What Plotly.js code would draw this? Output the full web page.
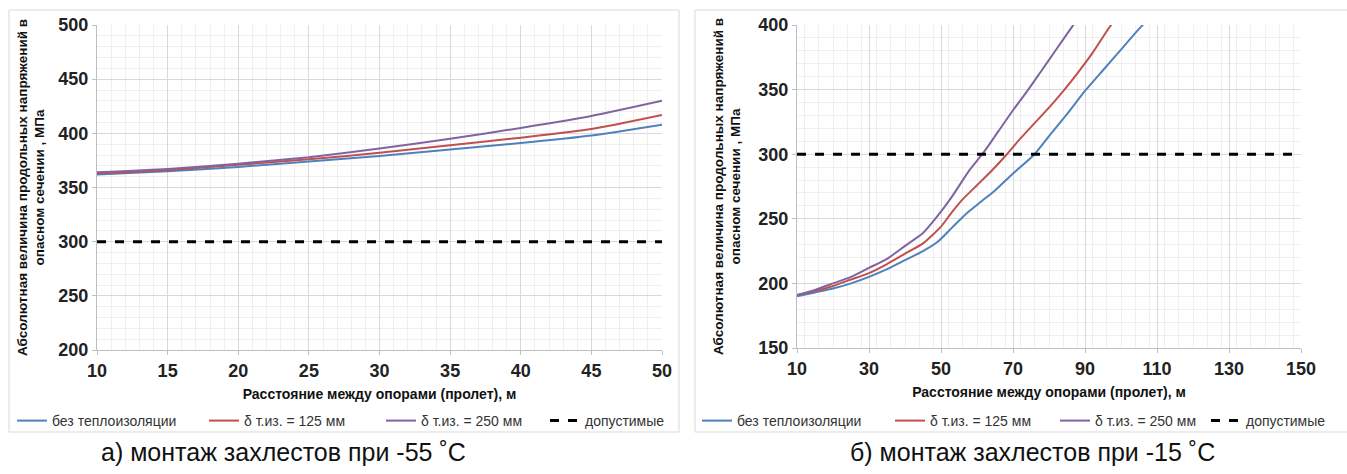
<!DOCTYPE html>
<html><head><meta charset="utf-8">
<script src="https://cdn.plot.ly/plotly-3.0.1.min.js"></script>
<style>html,body{margin:0;padding:0;background:#fff;overflow:hidden}</style>
</head><body><div id="chart" style="width:1347px;height:474px"></div>
<script>
// ---- data: panel a) -55 C ----
const spanA = [10, 15, 20, 25, 30, 35, 40, 45, 50];
const noInsA = [362, 365, 369, 374, 379, 385, 391, 398, 408];
const ins125A = [363, 366, 371, 376, 382, 389, 396, 404, 417];
const ins250A = [364, 367, 372, 378, 386, 395, 405, 416, 430];
const limitSpanA = [10, 50];
const limitA = [300, 300];

// ---- data: panel б) -15 C ----
const spanNoInsB = [10, 15, 20, 25, 30, 35, 40, 45, 49, 53, 57, 61, 65, 70, 76, 80, 85, 90, 95, 100, 105, 107];
const noInsB = [190, 193, 196, 200, 205, 211, 218, 225, 232, 243, 254, 263, 272, 285, 300, 314, 331, 349, 365, 381, 397, 403];
const span125B = [10, 15, 20, 25, 30, 35, 40, 45, 50, 53, 56, 60, 64, 68, 72, 76, 80, 84, 88, 92, 96, 98];
const ins125B = [191, 194, 198, 203, 208, 215, 223, 231, 244, 255, 265, 276, 287, 299, 312, 324, 336, 349, 363, 378, 395, 403];
const span250B = [10, 15, 20, 25, 30, 35, 40, 45, 49, 53, 58, 62, 66, 70, 74, 78, 82, 86, 88];
const ins250B = [191, 195, 200, 205, 212, 219, 229, 239, 252, 267, 288, 302, 318, 334, 349, 365, 381, 397, 405];
const limitSpanB = [10, 150];
const limitB = [300, 300];

const seriesNames = ["без теплоизоляции", "δ т.из. = 125 мм", "δ т.из. = 250 мм", "допустимые"];
const panelTitles = ["а) монтаж захлестов при -55 ˚С", "б) монтаж захлестов при -15 ˚С"];
const xTitle = "Расстояние между опорами (пролет), м";
const yTitle = "Абсолютная величина продольных напряжений в<br>опасном сечении , МПа";

const colors = ["#4f81bd", "#c0504d", "#8064a2", "#000000"];

function mk(x, y, i, xa, ya, lg) {
  const t = {x: x, y: y, type: "scatter", mode: "lines", name: seriesNames[i],
    xaxis: xa, yaxis: ya, legend: lg,
    line: {color: colors[i], width: 2, shape: "spline", smoothing: 0.6}};
  if (i === 3) { t.line = {color: "#000", width: 3, dash: "dash"}; }
  return t;
}

const data = [
  mk(spanA, noInsA, 0, "x", "y", "legend"),
  mk(spanA, ins125A, 1, "x", "y", "legend2"),
  mk(spanA, ins250A, 2, "x", "y", "legend3"),
  mk(limitSpanA, limitA, 3, "x", "y", "legend4"),
  mk(spanNoInsB, noInsB, 0, "x2", "y2", "legend5"),
  mk(span125B, ins125B, 1, "x2", "y2", "legend6"),
  mk(span250B, ins250B, 2, "x2", "y2", "legend7"),
  mk(limitSpanB, limitB, 3, "x2", "y2", "legend8")
];

const W = 1347, H = 474;
function px(v) { return v / W; }
function py(v) { return 1 - v / H; }

const tickFont = {family: "Liberation Sans, Arial, sans-serif", size: 18, color: "#222", weight: "bold"};
const gridMajor = "#d9d9d9";
const gridMinor = "#efefef";

const axisX = (dom, rng, dt, minorDt, anchor) => ({
  domain: dom, range: rng, dtick: dt, tick0: rng[0], anchor: anchor,
  showgrid: true, gridcolor: gridMajor, gridwidth: 1,
  minor: {dtick: minorDt, showgrid: true, gridcolor: gridMinor, gridwidth: 1},
  showline: true, linecolor: "#bfbfbf", linewidth: 1,
  ticks: "outside", ticklen: 4, tickcolor: "#bfbfbf",
  zeroline: false, tickfont: tickFont,
  title: {text: xTitle, font: {family: "Liberation Sans, Arial", size: 14, color: "#111", weight: "bold"}, standoff: 9}
});
const axisY = (dom, rng, anchor, standoff) => ({
  domain: dom, range: rng, dtick: 50, anchor: anchor,
  showgrid: true, gridcolor: gridMajor, gridwidth: 1,
  minor: {dtick: 10, showgrid: true, gridcolor: gridMinor, gridwidth: 1},
  showline: true, linecolor: "#bfbfbf", linewidth: 1,
  ticks: "outside", ticklen: 4, tickcolor: "#bfbfbf",
  zeroline: false, tickfont: tickFont,
  title: {text: yTitle, font: {family: "Liberation Sans, Arial", size: 13.5, color: "#111", weight: "bold"}, standoff: standoff}
});

const legFont = {family: "Liberation Sans, Arial", size: 14, color: "#333"};
function leg(xPix) {
  return {orientation: "h", x: px(xPix), y: py(421), xanchor: "left", yanchor: "middle",
    font: legFont, bgcolor: "rgba(0,0,0,0)", itemwidth: 30, borderwidth: 0};
}

const layout = {
  width: W, height: H,
  margin: {l: 0, r: 0, t: 0, b: 0},
  paper_bgcolor: "#fff", plot_bgcolor: "#fff",
  xaxis: axisX([px(97), px(662)], [10, 50], 5, 1, "y"),
  yaxis: axisY([py(350), py(25)], [200, 500], "x", 10),
  xaxis2: axisX([px(797), px(1301)], [10, 150], 20, 4, "y2"),
  yaxis2: axisY([py(348), py(25)], [150, 400], "x2", 14),
  legend: leg(12), legend2: leg(204), legend3: leg(381), legend4: leg(545),
  legend5: leg(697), legend6: leg(890), legend7: leg(1055), legend8: leg(1206),
  shapes: [
    {type: "rect", xref: "paper", yref: "paper", x0: px(9), x1: px(679), y0: py(432), y1: py(10), line: {color: "#d9d9d9", width: 1}, layer: "below"},
    {type: "rect", xref: "paper", yref: "paper", x0: px(695), x1: 1.003, y0: py(432), y1: py(10), line: {color: "#d9d9d9", width: 1}, layer: "below"}
  ],
  annotations: [
    {text: panelTitles[0], xref: "paper", yref: "paper", x: px(283), y: py(452), xanchor: "center", yanchor: "middle", showarrow: false,
      font: {family: "Liberation Sans, Arial", size: 25, color: "#111"}},
    {text: panelTitles[1], xref: "paper", yref: "paper", x: px(1032), y: py(452), xanchor: "center", yanchor: "middle", showarrow: false,
      font: {family: "Liberation Sans, Arial", size: 25, color: "#111"}}
  ],
  showlegend: true
};

Plotly.newPlot("chart", data, layout, {displayModeBar: false, staticPlot: true});
</script>
</body></html>
